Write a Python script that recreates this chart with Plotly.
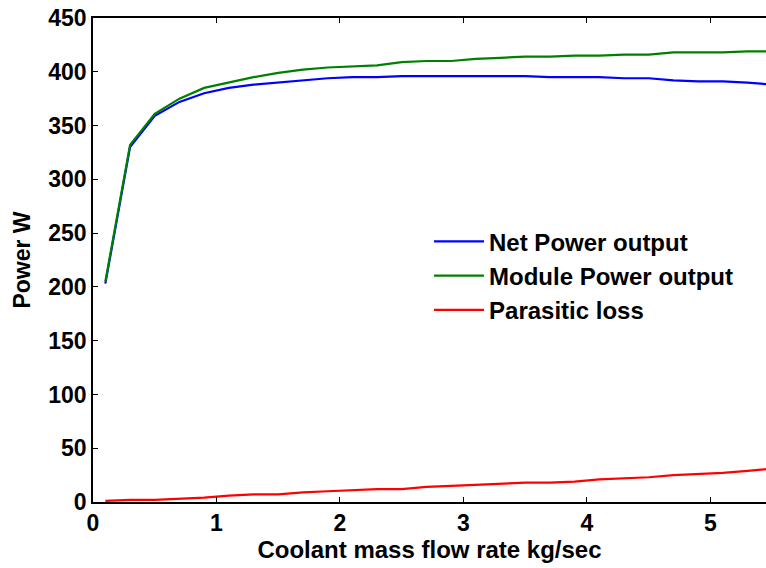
import plotly.graph_objects as go

flow_rate = [0.1, 0.3, 0.5, 0.7, 0.9, 1.1, 1.3, 1.5, 1.7, 1.9, 2.1, 2.3, 2.5, 2.7,
             2.9, 3.1, 3.3, 3.5, 3.7, 3.9, 4.1, 4.3, 4.5, 4.7, 4.9, 5.1, 5.3, 5.5]
net_power = [203, 330, 359, 372, 380, 385, 388, 390, 392, 394, 395, 395, 396, 396,
             396, 396, 396, 396, 395, 395, 395, 394, 394, 392, 391, 391, 390, 388]
module_power = [205, 332, 361, 375, 385, 390, 395, 399, 402, 404, 405, 406, 409, 410,
                410, 412, 413, 414, 414, 415, 415, 416, 416, 418, 418, 418, 419, 419]
parasitic_loss = [1, 2, 2, 3, 4, 6, 7, 7, 9, 10, 11, 12, 12, 14,
                  15, 16, 17, 18, 18, 19, 21, 22, 23, 25, 26, 27, 29, 31]

x_ticks = [0, 1, 2, 3, 4, 5]
y_ticks = [0, 50, 100, 150, 200, 250, 300, 350, 400, 450]

FONT = "Liberation Sans, Arial, Helvetica, sans-serif"

fig = go.Figure()
fig.add_trace(go.Scatter(x=flow_rate, y=net_power, mode="lines", name="Net Power output",
                         line=dict(color="#0000ff", width=2.2)))
fig.add_trace(go.Scatter(x=flow_rate, y=module_power, mode="lines", name="Module Power output",
                         line=dict(color="#008000", width=2.2)))
fig.add_trace(go.Scatter(x=flow_rate, y=parasitic_loss, mode="lines", name="Parasitic loss",
                         line=dict(color="#ff0000", width=2.2)))

fig.update_layout(
    width=766, height=568,
    margin=dict(l=93, r=0, t=18, b=66),
    paper_bgcolor="white", plot_bgcolor="white",
    font=dict(family=FONT, color="black", size=23, weight="bold"),
    showlegend=True,
    legend=dict(x=0.4993, y=0.584, xanchor="left", yanchor="top",
                bgcolor="rgba(0,0,0,0)", borderwidth=0,
                font=dict(family=FONT, size=24, color="black", weight="bold"),
                tracegroupgap=0, itemwidth=50),
    xaxis=dict(range=[0, 5.45], tickvals=x_ticks, ticktext=[str(v) for v in x_ticks],
               showgrid=False, zeroline=False, showline=True, linecolor="black", linewidth=1.5,
               mirror="ticks", ticks="inside", ticklen=5, tickcolor="black", tickwidth=1,
               tickfont=dict(family=FONT, size=23, weight="bold"),
               title=dict(text="Coolant mass flow rate kg/sec", standoff=3,
                          font=dict(family=FONT, size=24, weight="bold"))),
    yaxis=dict(range=[0, 450], tickvals=y_ticks, ticktext=[str(v) for v in y_ticks],
               showgrid=False, zeroline=False, showline=True, linecolor="black", linewidth=1.5,
               mirror=False, ticks="inside", ticklen=5, tickcolor="black", tickwidth=1,
               tickfont=dict(family=FONT, size=23, weight="bold"),
               title=dict(text="Power W", standoff=11,
                          font=dict(family=FONT, size=23, weight="bold"))),
)

fig.write_html("out.html")
